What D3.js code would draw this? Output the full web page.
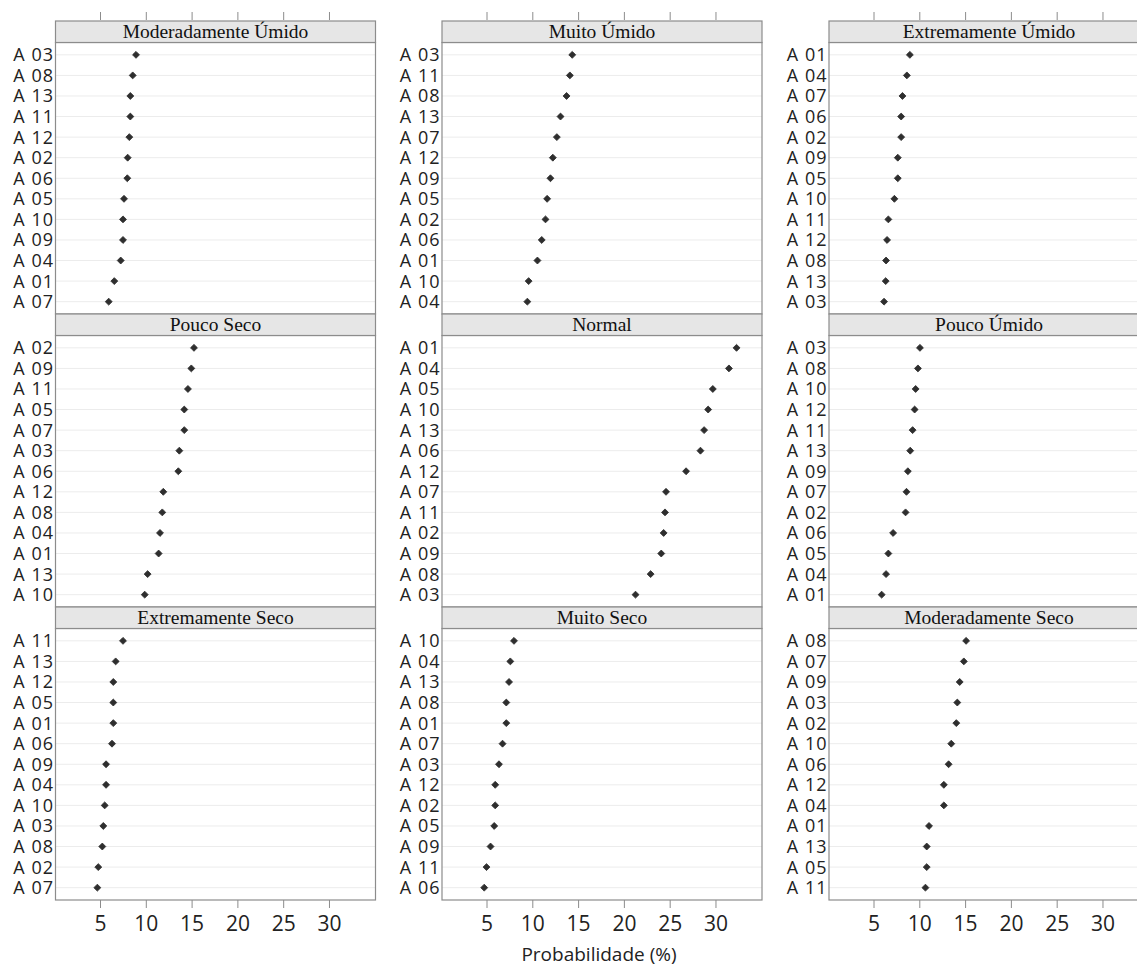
<!DOCTYPE html>
<html>
<head>
<meta charset="utf-8">
<script src="https://cdn.jsdelivr.net/npm/d3@7"></script>
<style>
  body { margin: 0; background: #fff; }
  svg { display: block; }
</style>
</head>
<body>
<script>
// panel order: row by row, left to right
const panelTitles = [
  "Moderadamente Úmido", "Muito Úmido", "Extremamente Úmido",
  "Pouco Seco", "Normal", "Pouco Úmido",
  "Extremamente Seco", "Muito Seco", "Moderadamente Seco"
];

// stations listed top to bottom in each panel, with probabilities (%)
const modUmidoStations = ["A 03","A 08","A 13","A 11","A 12","A 02","A 06","A 05","A 10","A 09","A 04","A 01","A 07"];
const modUmidoValues   = [8.93, 8.57, 8.31, 8.31, 8.2, 8.02, 7.98, 7.62, 7.51, 7.51, 7.26, 6.56, 5.95];

const muitoUmidoStations = ["A 03","A 11","A 08","A 13","A 07","A 12","A 09","A 05","A 02","A 06","A 01","A 10","A 04"];
const muitoUmidoValues   = [14.36, 14.1, 13.74, 13.08, 12.68, 12.24, 11.98, 11.62, 11.44, 11.03, 10.56, 9.6, 9.46];

const extUmidoStations = ["A 01","A 04","A 07","A 06","A 02","A 09","A 05","A 10","A 11","A 12","A 08","A 13","A 03"];
const extUmidoValues   = [8.97, 8.64, 8.16, 8.02, 8.02, 7.65, 7.65, 7.28, 6.62, 6.48, 6.37, 6.33, 6.15];

const poucoSecoStations = ["A 02","A 09","A 11","A 05","A 07","A 03","A 06","A 12","A 08","A 04","A 01","A 13","A 10"];
const poucoSecoValues   = [15.26, 14.97, 14.6, 14.2, 14.2, 13.66, 13.55, 11.91, 11.8, 11.55, 11.4, 10.2, 9.88];

const normalStations = ["A 01","A 04","A 05","A 10","A 13","A 06","A 12","A 07","A 11","A 02","A 09","A 08","A 03"];
const normalValues   = [32.3, 31.47, 29.71, 29.2, 28.76, 28.36, 26.79, 24.6, 24.49, 24.34, 24.08, 22.92, 21.27];

const poucoUmidoStations = ["A 03","A 08","A 10","A 12","A 11","A 13","A 09","A 07","A 02","A 06","A 05","A 04","A 01"];
const poucoUmidoValues   = [10.07, 9.85, 9.6, 9.49, 9.27, 9.01, 8.75, 8.6, 8.5, 7.14, 6.62, 6.37, 5.89];

const extSecoStations = ["A 11","A 13","A 12","A 05","A 01","A 06","A 09","A 04","A 10","A 03","A 08","A 02","A 07"];
const extSecoValues   = [7.51, 6.71, 6.45, 6.45, 6.45, 6.31, 5.66, 5.66, 5.51, 5.36, 5.25, 4.81, 4.71];

const muitoSecoStations = ["A 10","A 04","A 13","A 08","A 01","A 07","A 03","A 12","A 02","A 05","A 09","A 11","A 06"];
const muitoSecoValues   = [8.0, 7.6, 7.46, 7.16, 7.16, 6.75, 6.36, 5.95, 5.95, 5.84, 5.44, 5.0, 4.75];

const modSecoStations = ["A 08","A 07","A 09","A 03","A 02","A 10","A 06","A 12","A 04","A 01","A 13","A 05","A 11"];
const modSecoValues   = [15.11, 14.86, 14.41, 14.15, 14.04, 13.49, 13.2, 12.68, 12.68, 11.06, 10.81, 10.81, 10.67];

const xTicks = [5, 10, 15, 20, 25, 30];

const panelStations = [modUmidoStations, muitoUmidoStations, extUmidoStations,
  poucoSecoStations, normalStations, poucoUmidoStations,
  extSecoStations, muitoSecoStations, modSecoStations];
const panelValues = [modUmidoValues, muitoUmidoValues, extUmidoValues,
  poucoSecoValues, normalValues, poucoUmidoValues,
  extSecoValues, muitoSecoValues, modSecoValues];

const width = 1137;
const height = 969;
const colLeft = [55.5, 442, 829];
const panelW = 320;
const rowTop = [21, 314, 607];
const stripH = 21.5;
const plotH = 271.5;

const sansFont = "'Open Sans', sans-serif";
const serifFont = "'Liberation Serif', 'Times New Roman', serif";

const svg = d3.select("body")
  .append("svg")
  .attr("width", width)
  .attr("height", height);

panelTitles.forEach((title, i) => {
  const col = i % 3;
  const row = Math.floor(i / 3);
  const x0 = colLeft[col];
  const y0 = rowTop[row];

  const x = d3.scaleLinear()
    .domain([0.14, 35.08])
    .range([x0, x0 + panelW]);

  const y = d3.scalePoint()
    .domain(panelStations[i])
    .range([y0 + stripH, y0 + stripH + plotH])
    .padding(0.6);

  const g = svg.append("g");

  g.append("rect")
    .attr("x", x0)
    .attr("y", y0 + stripH)
    .attr("width", panelW)
    .attr("height", plotH)
    .attr("fill", "#fff");

  // gridlines
  g.selectAll(".grid")
    .data(panelStations[i])
    .enter()
    .append("line")
    .attr("x1", x0)
    .attr("x2", x0 + panelW)
    .attr("y1", d => y(d))
    .attr("y2", d => y(d))
    .attr("stroke", "#ececec")
    .attr("stroke-width", 1);

  // dots (rounded diamonds)
  g.selectAll(".dot")
    .data(panelValues[i])
    .enter()
    .append("path")
    .attr("d", d3.symbol().type(d3.symbolSquare).size(24))
    .attr("transform", (d, k) => `translate(${x(d)},${y(panelStations[i][k])}) rotate(45)`)
    .attr("fill", "#2e2e2e")
    .attr("stroke", "#2e2e2e")
    .attr("stroke-width", 0.8)
    .attr("stroke-linejoin", "round");

  g.append("rect")
    .attr("x", x0)
    .attr("y", y0 + stripH)
    .attr("width", panelW)
    .attr("height", plotH)
    .attr("fill", "none")
    .attr("stroke", "#8c8c8c")
    .attr("stroke-width", 1.2);

  // strip
  g.append("rect")
    .attr("x", x0)
    .attr("y", y0)
    .attr("width", panelW)
    .attr("height", stripH)
    .attr("fill", "#e6e6e6")
    .attr("stroke", "#8c8c8c")
    .attr("stroke-width", 1.2);

  g.append("text")
    .attr("x", x0 + panelW / 2)
    .attr("y", y0 + stripH / 2 + 6.5)
    .attr("text-anchor", "middle")
    .attr("font-family", serifFont)
    .attr("font-size", 19.5)
    .attr("fill", "#111")
    .text(title);

  // station labels
  g.selectAll(".lab")
    .data(panelStations[i])
    .enter()
    .append("text")
    .attr("x", x0 - 1.5)
    .attr("y", d => y(d) + 6.5)
    .attr("text-anchor", "end")
    .attr("font-family", sansFont)
    .attr("font-size", 18)
    .attr("letter-spacing", 1)
    .attr("fill", "#222")
    .text(d => d);

  // top ticks (no labels) on first row
  if (row === 0) {
    const top = svg.append("g")
      .attr("transform", `translate(0,${y0 - 1})`)
      .call(d3.axisTop(x).tickValues(xTicks).tickSize(8).tickFormat(""));
    top.select(".domain").remove();
    top.selectAll("line").attr("stroke", "#8c8c8c");
  }

  // bottom axis on last row
  if (row === 2) {
    const bot = svg.append("g")
      .attr("transform", `translate(0,${y0 + stripH + plotH})`)
      .call(d3.axisBottom(x).tickValues(xTicks).tickSize(8).tickPadding(8));
    bot.select(".domain").remove();
    bot.selectAll("line").attr("stroke", "#8c8c8c");
    bot.selectAll("text")
      .attr("font-family", sansFont)
      .attr("font-size", 21)
      .attr("fill", "#222");
  }
});

svg.append("text")
  .attr("x", colLeft[1] + panelW / 2 - 3)
  .attr("y", 961)
  .attr("text-anchor", "middle")
  .attr("font-family", sansFont)
  .attr("font-size", 19)
  .attr("fill", "#222")
  .text("Probabilidade (%)");
</script>
</body>
</html>
